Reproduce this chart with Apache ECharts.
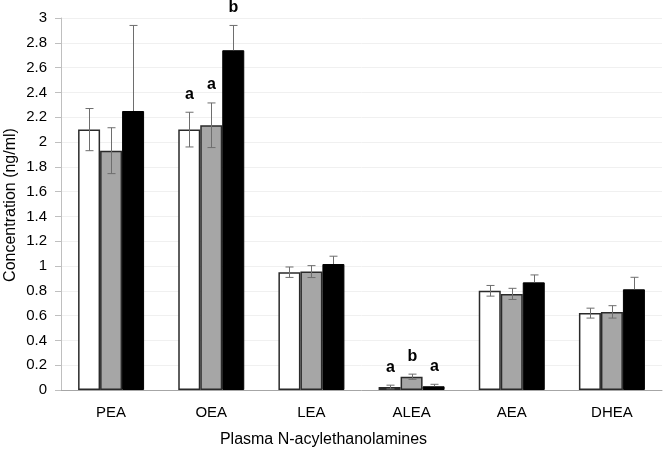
<!DOCTYPE html>
<html>
<head>
<meta charset="utf-8">
<script src="https://cdn.jsdelivr.net/npm/echarts@6/dist/echarts.min.js"></script>
<style>
html,body{margin:0;padding:0;background:#fff;}
#chart{width:667px;height:453px;}
</style>
</head>
<body>
<div id="chart"></div>
<script>
const categories = ['PEA', 'OEA', 'LEA', 'ALEA', 'AEA', 'DHEA'];
const group1 = [2.10, 2.10, 0.95, 0.024, 0.80, 0.62];
const group2 = [1.93, 2.135, 0.955, 0.107, 0.775, 0.63];
const group3 = [2.25, 2.74, 1.016, 0.03, 0.868, 0.812];
const err1 = [0.17, 0.14, 0.042, 0.015, 0.043, 0.04];
const err2 = [0.185, 0.18, 0.048, 0.021, 0.045, 0.05];
const err3 = [0.69, 0.20, 0.063, 0.016, 0.06, 0.097];
const sig1 = ['', 'a', '', 'a', '', ''];
const sig2 = ['', 'a', '', 'b', '', ''];
const sig3 = ['', 'b', '', 'a', '', ''];
const yTicks = ['0', '0.2', '0.4', '0.6', '0.8', '1', '1.2', '1.4', '1.6', '1.8', '2', '2.2', '2.4', '2.6', '2.8', '3'];

const FONT = "'Liberation Sans', Arial, sans-serif";
const BAR_W = 22;

function errSeries(vals, errs, sigs, offset, upperOnly) {
  return {
    type: 'custom',
    z: 5,
    silent: true,
    encode: { x: 0, y: 1 },
    data: vals.map((v, i) => [i, v, errs[i]]),
    renderItem: function (params, api) {
      const idx = api.value(0);
      const v = api.value(1);
      const e = api.value(2);
      const s = sigs[params.dataIndex];
      const top = api.coord([idx, v + e]);
      const bot = api.coord([idx, upperOnly ? v : v - e]);
      const x = Math.round(top[0] + offset) + 0.5;
      const cap = 4;
      const style = { stroke: '#6e6e6e', lineWidth: 1 };
      const children = [
        { type: 'line', shape: { x1: x, y1: top[1], x2: x, y2: bot[1] }, style: style },
        { type: 'line', shape: { x1: x - cap, y1: top[1], x2: x + cap, y2: top[1] }, style: style }
      ];
      if (!upperOnly) {
        children.push({ type: 'line', shape: { x1: x - cap, y1: bot[1], x2: x + cap, y2: bot[1] }, style: style });
      }
      if (s) {
        children.push({
          type: 'text',
          style: {
            text: s, x: x, y: top[1] - 18,
            align: 'center', verticalAlign: 'middle',
            font: 'bold 16px ' + FONT, fill: '#000'
          }
        });
      }
      return { type: 'group', children: children };
    }
  };
}

const chart = echarts.init(document.getElementById('chart'), null, { renderer: 'canvas' });
chart.setOption({
  animation: false,
  backgroundColor: '#fff',
  grid: { left: 61, right: 5, top: 18, bottom: 63, containLabel: false, outerBoundsMode: 'none' },
  xAxis: {
    type: 'category',
    data: categories,
    name: 'Plasma N-acylethanolamines',
    nameLocation: 'middle',
    nameGap: 42,
    nameMoveOverlap: false,
    nameTextStyle: { color: '#000', fontSize: 16, fontFamily: FONT, padding: [0, 76, 0, 0] },
    axisLine: { lineStyle: { color: '#a6a6a6', width: 1 } },
    axisTick: { show: false },
    axisLabel: { color: '#000', fontSize: 15, fontFamily: FONT, margin: 15 }
  },
  yAxis: {
    type: 'value',
    min: 0, max: 3, interval: 0.2,
    axisLine: { show: true, lineStyle: { color: '#bfbfbf', width: 1 } },
    axisTick: { show: true, length: 6, lineStyle: { color: '#bfbfbf' } },
    splitLine: { show: true, lineStyle: { color: '#f0f0f0', width: 1 } },
    axisLabel: {
      color: '#000', fontSize: 15, fontFamily: FONT, margin: 14,
      formatter: function (v) { return yTicks[Math.round(v / 0.2)]; }
    }
  },
  graphic: [
    { type: 'text', x: 11, y: 205, rotation: Math.PI / 2,
      style: { text: 'Concentration (ng/ml)', font: '16px ' + FONT, fill: '#000',
               align: 'center', verticalAlign: 'middle' } }
  ],
  series: [
    { type: 'bar', data: group1, barWidth: BAR_W, barGap: '0%',
      itemStyle: { color: '#ffffff', borderColor: '#2a2a2a', borderWidth: 1.5 } },
    { type: 'bar', data: group2, barWidth: BAR_W, barGap: '0%',
      itemStyle: { color: '#a6a6a6', borderColor: '#2a2a2a', borderWidth: 1.5 } },
    { type: 'bar', data: group3, barWidth: BAR_W, barGap: '0%',
      itemStyle: { color: '#000000', borderColor: '#000000', borderWidth: 1 } },
    errSeries(group1, err1, sig1, -BAR_W, false),
    errSeries(group2, err2, sig2, 0, false),
    errSeries(group3, err3, sig3, BAR_W, true)
  ]
});
</script>
</body>
</html>
